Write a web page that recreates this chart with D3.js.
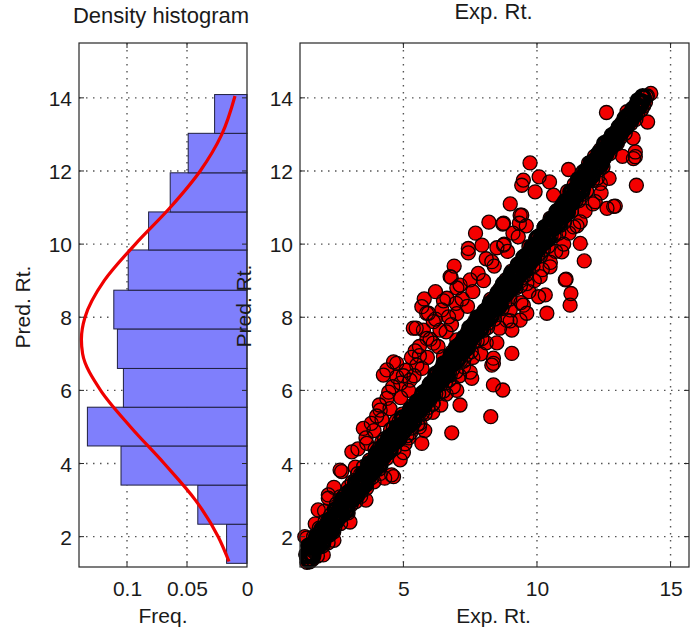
<!DOCTYPE html>
<html>
<head>
<meta charset="utf-8">
<script src="https://cdn.jsdelivr.net/npm/d3@7"></script>
<style>
  body { margin: 0; background: #fff; }
  text { font-family: "Liberation Sans", Arial, sans-serif; fill: #1a1a1a; }
</style>
</head>
<body>
<script>
// histogram of predicted values: bin edges and relative frequency (bottom to top)
var binEdges = [1.27, 2.34, 3.41, 4.48, 5.54, 6.60, 7.68, 8.74, 9.84, 10.88, 11.95, 13.03, 14.09];
var binFreq = [0.017, 0.041, 0.105, 0.133, 0.103, 0.108, 0.111, 0.099, 0.082, 0.064, 0.049, 0.027];

// fitted density curve: [pred, freq]
var densityCurve = [[1.32, 0.015], [2, 0.024], [3, 0.043], [4, 0.069], [5, 0.097], [6, 0.122],
  [7, 0.137], [7.4, 0.138], [8, 0.135], [9, 0.119], [10, 0.093], [11, 0.064], [12, 0.039],
  [13, 0.021], [14.05, 0.010]];

var freqTicks = [0.1, 0.05, 0];
var predTicks = [2, 4, 6, 8, 10, 12, 14];
var expTicks = [5, 10, 15];

// scatter, [exp, pred]: the band along the diagonal
var bandPoints = [
  [1.35,1.52],[1.39,1.30],[1.42,1.75],[1.46,1.46],[1.49,1.31],[1.53,1.77],[1.57,1.64],[1.60,1.38],[1.64,2.00],[1.67,1.58],
  [1.71,1.68],[1.75,2.05],[1.78,1.47],[1.82,1.97],[1.85,2.23],[1.89,1.76],[1.93,1.96],[1.96,2.22],[2.00,1.76],[2.03,2.13],
  [2.07,2.42],[2.11,2.04],[2.14,2.23],[2.18,1.83],[2.21,2.43],[2.25,2.05],[2.29,2.60],[2.32,2.30],[2.36,2.52],[2.39,2.13],
  [2.43,2.26],[2.47,2.60],[2.50,2.90],[2.54,2.44],[2.57,2.59],[2.61,2.89],[2.65,2.36],[2.68,2.87],[2.72,2.67],[2.75,3.09],
  [2.79,2.96],[2.83,2.67],[2.86,3.19],[2.90,2.90],[2.93,2.65],[2.97,3.21],[3.01,3.13],[3.04,2.87],[3.08,3.49],[3.11,3.07],
  [3.15,3.17],[3.19,3.54],[3.22,2.96],[3.26,3.46],[3.29,3.72],[3.33,3.25],[3.37,3.45],[3.40,3.71],[3.44,3.25],[3.47,3.62],
  [3.51,3.91],[3.55,3.53],[3.58,3.72],[3.62,3.32],[3.65,3.92],[3.69,3.54],[3.73,4.09],[3.76,3.79],[3.80,4.01],[3.83,3.62],
  [3.87,3.75],[3.91,4.09],[3.94,4.39],[3.98,3.93],[4.01,4.08],[4.05,4.38],[4.09,3.85],[4.12,4.36],[4.16,4.16],[4.19,4.58],
  [4.23,4.45],[4.27,4.16],[4.30,4.68],[4.34,4.39],[4.37,4.14],[4.41,4.70],[4.45,4.57],[4.48,4.31],[4.52,4.93],[4.55,4.51],
  [4.59,4.61],[4.63,4.98],[4.66,4.40],[4.70,4.90],[4.73,5.16],[4.77,4.69],[4.81,4.89],[4.84,5.15],[4.88,4.69],[4.91,5.06],
  [4.95,5.35],[4.99,4.97],[5.02,4.94],[5.06,4.54],[5.09,5.14],[5.13,4.76],[5.17,5.31],[5.20,5.01],[5.24,5.23],[5.27,4.84],
  [5.31,4.97],[5.35,5.31],[5.38,5.61],[5.42,5.15],[5.45,5.30],[5.49,5.60],[5.53,5.07],[5.56,5.58],[5.60,5.38],[5.63,5.80],
  [5.67,5.67],[5.71,5.38],[5.74,5.90],[5.78,5.61],[5.81,5.36],[5.85,5.92],[5.89,5.79],[5.92,5.53],[5.96,6.15],[5.99,5.73],
  [6.03,5.83],[6.07,6.20],[6.10,5.62],[6.14,6.12],[6.17,6.38],[6.21,5.91],[6.25,6.11],[6.28,6.37],[6.32,5.91],[6.35,6.28],
  [6.39,6.57],[6.43,6.19],[6.46,6.38],[6.50,5.98],[6.53,6.58],[6.57,6.20],[6.61,6.75],[6.64,6.45],[6.68,6.67],[6.71,6.28],
  [6.75,6.41],[6.79,6.75],[6.82,7.05],[6.86,6.59],[6.89,6.74],[6.93,7.04],[6.97,6.51],[7.00,7.02],[7.04,6.82],[7.07,7.24],
  [7.11,7.11],[7.15,6.82],[7.18,7.34],[7.22,7.05],[7.25,6.80],[7.29,7.36],[7.33,7.23],[7.36,6.97],[7.40,7.59],[7.43,7.17],
  [7.47,7.27],[7.51,7.64],[7.54,7.06],[7.58,7.56],[7.61,7.82],[7.65,7.35],[7.69,7.55],[7.72,7.81],[7.76,7.35],[7.79,7.72],
  [7.83,8.01],[7.87,7.63],[7.90,7.82],[7.94,7.42],[7.97,8.02],[8.01,7.64],[8.05,8.19],[8.08,7.89],[8.12,8.11],[8.15,7.72],
  [8.19,7.85],[8.23,8.19],[8.26,8.49],[8.30,8.03],[8.33,8.18],[8.37,8.48],[8.41,7.95],[8.44,8.46],[8.48,8.26],[8.51,8.68],
  [8.55,8.55],[8.59,8.26],[8.62,8.78],[8.66,8.49],[8.69,8.24],[8.73,8.80],[8.77,8.67],[8.80,8.41],[8.84,9.03],[8.87,8.61],
  [8.91,8.71],[8.95,9.08],[8.98,8.50],[9.02,9.00],[9.05,9.26],[9.09,8.79],[9.13,8.99],[9.16,9.25],[9.20,8.79],[9.23,9.16],
  [9.27,9.45],[9.31,9.07],[9.34,9.26],[9.38,8.86],[9.41,9.46],[9.45,9.08],[9.49,9.63],[9.52,9.33],[9.56,9.55],[9.59,9.16],
  [9.63,9.29],[9.67,9.63],[9.70,9.93],[9.74,9.47],[9.77,9.62],[9.81,9.92],[9.85,9.39],[9.88,9.90],[9.92,9.70],[9.95,10.12],
  [9.99,9.99],[10.03,9.70],[10.06,10.22],[10.10,9.93],[10.13,9.68],[10.17,10.24],[10.21,10.11],[10.24,9.85],[10.28,10.47],[10.31,10.05],
  [10.35,10.15],[10.39,10.52],[10.42,9.94],[10.46,10.44],[10.49,10.70],[10.53,10.23],[10.57,10.43],[10.60,10.69],[10.64,10.23],[10.67,10.60],
  [10.71,10.89],[10.75,10.51],[10.78,10.70],[10.82,10.30],[10.85,10.90],[10.89,10.52],[10.93,11.07],[10.96,10.77],[11.00,10.99],[11.03,10.60],
  [11.07,10.80],[11.11,11.14],[11.14,11.44],[11.18,10.98],[11.21,11.13],[11.25,11.43],[11.29,10.90],[11.32,11.41],[11.36,11.21],[11.39,11.63],
  [11.43,11.50],[11.47,11.21],[11.50,11.73],[11.54,11.44],[11.57,11.19],[11.61,11.75],[11.65,11.62],[11.68,11.36],[11.72,11.98],[11.75,11.56],
  [11.79,11.66],[11.83,12.03],[11.86,11.45],[11.90,11.95],[11.93,12.21],[11.97,11.74],[12.01,11.94],[12.04,12.20],[12.08,11.74],[12.11,12.11],
  [12.15,12.40],[12.19,12.02],[12.22,12.21],[12.26,11.81],[12.29,12.41],[12.33,12.03],[12.37,12.58],[12.40,12.28],[12.44,12.50],[12.47,12.11],
  [12.51,12.33],[12.55,12.55],[12.58,12.74],[12.62,12.48],[12.65,12.58],[12.69,12.78],[12.73,12.48],[12.76,12.79],[12.80,12.69],[12.83,12.95],
  [12.87,12.89],[12.91,12.73],[12.94,13.06],[12.98,12.90],[13.01,12.76],[13.05,13.11],[13.09,13.05],[13.12,12.91],[13.16,13.30],[13.19,13.06],
  [13.23,13.13],[13.27,13.37],[13.30,13.03],[13.34,13.35],[13.37,13.52],[13.41,13.25],[13.45,13.39],[13.48,13.56],[13.52,13.30],[13.55,13.53],
  [13.59,13.72],[13.63,13.51],[13.66,13.63],[13.70,13.41],[13.73,13.78],[13.77,13.57],[13.81,13.92],[13.84,13.75],[13.88,13.90],[13.91,13.67],
  [13.95,13.90],[13.99,13.78],[14.02,14.00],[14.06,13.88],[14.09,14.03],[14.13,14.05]
];

// the tight core of the band, where markers pile up into a solid black strip
var bandCore = [
  [1.40,1.49],[1.44,1.37],[1.48,1.75],[1.53,1.53],[1.57,1.74],[1.61,1.47],[1.65,1.79],[1.69,1.74],[1.74,1.97],[1.78,1.74],
  [1.82,1.75],[1.86,1.98],[1.90,1.93],[1.95,2.20],[1.99,1.86],[2.03,2.10],[2.07,2.26],[2.11,2.09],[2.16,2.27],[2.20,2.09],
  [2.24,2.46],[2.28,2.30],[2.32,2.17],[2.37,2.52],[2.41,2.47],[2.45,2.73],[2.49,2.43],[2.53,2.63],[2.58,2.57],[2.62,2.80],
  [2.66,2.75],[2.70,2.60],[2.74,3.01],[2.79,2.79],[2.83,3.00],[2.87,2.71],[2.91,3.05],[2.95,3.00],[3.00,3.23],[3.04,3.00],
  [3.08,3.01],[3.12,3.24],[3.16,3.19],[3.21,3.46],[3.25,3.12],[3.29,3.36],[3.33,3.52],[3.37,3.35],[3.42,3.53],[3.46,3.35],
  [3.50,3.72],[3.54,3.56],[3.58,3.43],[3.63,3.78],[3.67,3.73],[3.71,3.99],[3.75,3.69],[3.79,3.89],[3.84,3.83],[3.88,4.06],
  [3.92,4.01],[3.96,3.86],[4.00,4.27],[4.05,4.05],[4.09,4.26],[4.13,3.97],[4.17,4.31],[4.21,4.26],[4.26,4.49],[4.30,4.26],
  [4.34,4.27],[4.38,4.50],[4.42,4.45],[4.47,4.72],[4.51,4.38],[4.55,4.62],[4.59,4.78],[4.63,4.61],[4.68,4.79],[4.72,4.61],
  [4.76,4.98],[4.80,4.82],[4.84,4.69],[4.89,5.04],[4.93,4.99],[4.97,5.25],[5.01,4.89],[5.05,5.09],[5.10,5.03],[5.14,5.26],
  [5.18,5.21],[5.22,5.06],[5.26,5.47],[5.31,5.25],[5.35,5.46],[5.39,5.17],[5.43,5.51],[5.47,5.46],[5.52,5.69],[5.56,5.46],
  [5.60,5.47],[5.64,5.70],[5.68,5.65],[5.73,5.92],[5.77,5.58],[5.81,5.82],[5.85,5.98],[5.89,5.81],[5.94,5.99],[5.98,5.81],
  [6.02,6.18],[6.06,6.02],[6.10,5.89],[6.15,6.24],[6.19,6.19],[6.23,6.45],[6.27,6.15],[6.31,6.35],[6.36,6.29],[6.40,6.52],
  [6.44,6.47],[6.48,6.32],[6.52,6.73],[6.57,6.51],[6.61,6.72],[6.65,6.43],[6.69,6.77],[6.73,6.72],[6.78,6.95],[6.82,6.72],
  [6.86,6.73],[6.90,6.96],[6.94,6.91],[6.99,7.18],[7.03,6.84],[7.07,7.08],[7.11,7.24],[7.15,7.07],[7.20,7.25],[7.24,7.07],
  [7.28,7.44],[7.32,7.28],[7.36,7.15],[7.41,7.50],[7.45,7.45],[7.49,7.71],[7.53,7.41],[7.57,7.61],[7.62,7.55],[7.66,7.78],
  [7.70,7.73],[7.74,7.58],[7.78,7.99],[7.83,7.77],[7.87,7.98],[7.91,7.69],[7.95,8.03],[7.99,7.98],[8.04,8.15],[8.08,7.92],
  [8.12,7.93],[8.16,8.16],[8.20,8.11],[8.25,8.38],[8.29,8.04],[8.33,8.28],[8.37,8.44],[8.41,8.27],[8.46,8.45],[8.50,8.27],
  [8.54,8.64],[8.58,8.48],[8.62,8.35],[8.67,8.70],[8.71,8.65],[8.75,8.91],[8.79,8.61],[8.83,8.81],[8.88,8.75],[8.92,8.98],
  [8.96,8.93],[9.00,8.78],[9.04,9.19],[9.09,8.97],[9.13,9.18],[9.17,8.89],[9.21,9.23],[9.25,9.18],[9.30,9.41],[9.34,9.18],
  [9.38,9.19],[9.42,9.42],[9.46,9.37],[9.51,9.64],[9.55,9.30],[9.59,9.54],[9.63,9.70],[9.67,9.53],[9.72,9.71],[9.76,9.53],
  [9.80,9.90],[9.84,9.74],[9.88,9.61],[9.93,9.96],[9.97,9.91],[10.01,10.17],[10.05,9.87],[10.09,10.07],[10.14,10.01],[10.18,10.24],
  [10.22,10.19],[10.26,10.04],[10.30,10.45],[10.35,10.23],[10.39,10.44],[10.43,10.15],[10.47,10.49],[10.51,10.44],[10.56,10.67],[10.60,10.44],
  [10.64,10.45],[10.68,10.68],[10.72,10.63],[10.77,10.90],[10.81,10.56],[10.85,10.80],[10.89,10.96],[10.93,10.79],[10.98,10.97],[11.02,10.79],
  [11.06,11.16],[11.10,11.00],[11.14,10.87],[11.19,11.22],[11.23,11.17],[11.27,11.43],[11.31,11.13],[11.35,11.33],[11.40,11.27],[11.44,11.50],
  [11.48,11.45],[11.52,11.36],[11.56,11.77],[11.61,11.55],[11.65,11.76],[11.69,11.47],[11.73,11.81],[11.77,11.76],[11.82,11.99],[11.86,11.76],
  [11.90,11.77],[11.94,12.00],[11.98,11.95],[12.03,12.22],[12.07,11.88],[12.11,12.12],[12.15,12.28],[12.19,12.11],[12.24,12.29],[12.28,12.11],
  [12.32,12.48],[12.36,12.32],[12.40,12.19],[12.45,12.54],[12.49,12.49],[12.53,12.75],[12.57,12.45],[12.61,12.65],[12.66,12.59],[12.70,12.82],
  [12.74,12.76],[12.78,12.67],[12.82,12.97],[12.87,12.83],[12.91,12.99],[12.95,12.80],[12.99,13.05],[13.03,13.02],[13.08,13.20],[13.12,13.05],
  [13.16,13.07],[13.20,13.24],[13.24,13.22],[13.29,13.43],[13.33,13.20],[13.37,13.38],[13.41,13.50],[13.45,13.40],[13.50,13.53],[13.54,13.42],
  [13.58,13.68],[13.62,13.60],[13.66,13.54],[13.71,13.77],[13.75,13.75],[13.79,13.92],[13.83,13.76],[13.87,13.89],[13.92,13.88],[13.96,14.03]
];

// scatter, [exp, pred]: points off the band
var outlierPoints = [
  [14.26,14.12],[13.37,13.62],[14.14,13.34],[13.68,12.52],[13.61,12.34],[13.72,11.61],[13.68,12.39],
  [9.74,12.22],[9.49,11.75],[9.43,11.61],[10.08,11.84],[10.47,11.70],[9.93,11.43],[10.62,11.34],
  [11.18,12.04],[12.18,11.16],[12.62,10.98],[12.93,11.04],[12.37,11.66],[12.87,11.03],[11.62,10.61],
  [11.37,10.47],[9.43,10.79],[9.34,10.57],[8.72,10.55],[8.75,10.57],[9.37,10.79],[7.94,9.97],
  [7.43,9.88],[8.75,9.97],[11.62,10.02],[7.43,9.76],[8.77,10.00],[8.31,9.52],[6.79,9.09],[6.75,9.11],
  [7.12,8.88],[7.50,9.02],[5.78,8.50],[6.63,8.52],[6.97,8.38],[5.94,8.11],[5.87,8.11],[5.69,8.29],
  [5.48,7.70],[5.37,7.70],[6.12,7.88],[5.88,7.42],[5.44,7.08],[5.50,6.69],[6.12,7.29],[6.50,6.92],
  [7.00,7.38],[7.25,6.65],[7.56,6.33],[8.37,6.15],[8.72,6.01],[8.31,6.69],[8.37,6.88],[8.37,6.74],
  [9.06,7.01],[9.06,7.65],[8.87,7.92],[9.62,8.11],[10.37,8.11],[10.06,8.56],[10.31,8.61],[11.09,9.04],
  [11.06,9.02],[11.27,8.65],[11.24,8.33],[10.49,9.38],[11.77,9.54],[10.93,9.79],[9.62,8.92],[10.12,9.11],
  [9.06,8.74],[9.49,8.33],[9.37,7.92],[6.44,8.20],[6.69,8.01],[5.75,7.65],[6.37,7.65],[4.63,6.78],
  [4.75,6.74],[4.38,6.56],[4.25,6.42],[4.75,6.37],[5.25,6.28],[6.87,6.10],[4.38,5.78],[6.81,4.84],
  [8.27,5.28],[5.69,4.55],[7.12,5.60],[4.63,3.64],[4.56,3.69],[4.88,4.10],[4.13,3.73],[3.50,4.96],
  [3.07,4.32],[2.69,3.78],[2.63,3.82],[2.19,3.05],[2.19,3.14],[1.81,2.73],[1.31,2.00],[1.38,1.96],
  [1.63,1.73],[1.94,1.73],[1.38,1.45],[4.13,5.46],[5.62,5.10],[6.12,5.65],[2.63,3.09],[2.94,3.36],
  [3.63,4.55],[3.30,4.40],[3.80,5.10],[4.00,5.30],[4.45,5.95],[4.90,6.20],[5.10,6.55],[5.30,6.90],
  [5.60,7.20],[3.20,3.90],[2.40,3.35],[2.05,2.70],[1.70,2.35],[2.90,2.70],[3.40,3.10],[3.90,3.50],
  [5.20,4.70],[5.60,5.00],[6.10,5.40],[6.60,5.90],[7.10,6.40],[7.60,6.90],[8.10,7.30],[8.60,7.70],
  [9.00,8.20],[9.70,8.70],[10.20,9.30],[10.70,9.80],[11.20,10.30],[11.80,10.90],[12.40,11.40],
  [6.20,8.70],[6.90,9.40],[7.70,10.30],[8.20,10.60],[9.00,11.10],[12.60,13.60],
  // left fringe
  [3.60,4.70],[3.90,4.90],[4.20,5.20],[4.10,5.60],[4.50,5.50],[4.60,6.10],[4.90,5.80],[5.00,6.40],
  [5.20,6.00],[5.40,6.40],[5.70,6.60],[5.60,6.95],[5.90,6.90],[6.00,7.40],[6.30,7.20],[6.20,7.95],
  [6.60,7.60],[6.80,7.80],[6.50,8.45],[7.00,8.10],[7.20,8.50],[7.40,8.30],[7.00,8.80],[7.60,8.70],
  [7.80,9.20],[8.00,9.00],[8.10,9.60],[8.40,9.40],[8.50,9.90],[8.90,9.80],[9.10,10.30],[9.30,10.20],
  [9.60,10.50],
  // right fringe
  [3.00,2.40],[3.60,3.00],[4.30,3.60],[5.00,4.30],[5.80,4.90],[6.40,5.60],[7.00,6.00],[7.50,6.50],
  [7.90,7.00],[8.50,7.30],[9.00,7.90],[9.40,8.40],[9.90,9.00],[10.50,9.50],[11.00,10.00],[11.50,10.50],
  [12.10,11.10],[12.70,11.80],[13.20,12.40],[13.60,12.90],[2.40,1.90],[2.00,1.50]
];

var width = 690, height = 633;
var fontSize = 21;

var svg = d3.select("body").append("svg")
    .attr("width", width)
    .attr("height", height);

// shared vertical scale
var yScale = d3.scaleLinear().domain([1.17, 15.5]).range([567, 43]);

// panels
var left = {x0: 79, x1: 247, y0: 43, y1: 567};
var right = {x0: 300, x1: 689, y0: 43, y1: 567};

var freqScale = d3.scaleLinear().domain([0, 0.14]).range([left.x1, left.x0]);
var expScale = d3.scaleLinear().domain([1.13, 15.69]).range([right.x0, right.x1]);

function grid(g, p, xs, xvals) {
  g.selectAll(".hg").data(predTicks).enter().append("line")
      .attr("x1", p.x0).attr("x2", p.x1)
      .attr("y1", function(d) { return yScale(d); })
      .attr("y2", function(d) { return yScale(d); });
  g.selectAll(".vg").data(xvals).enter().append("line")
      .attr("x1", function(d) { return xs(d); })
      .attr("x2", function(d) { return xs(d); })
      .attr("y1", p.y0).attr("y2", p.y1);
  g.selectAll("line")
      .attr("stroke", "#555")
      .attr("stroke-width", 1.4)
      .attr("stroke-dasharray", "1.5,5.5");
}

function frame(g, p, xs, xvals) {
  var t = 5;
  g.append("rect")
      .attr("x", p.x0).attr("y", p.y0)
      .attr("width", p.x1 - p.x0).attr("height", p.y1 - p.y0)
      .attr("fill", "none").attr("stroke", "#262626").attr("stroke-width", 1.2);
  predTicks.forEach(function(d) {
    g.append("line").attr("x1", p.x0).attr("x2", p.x0 + t)
        .attr("y1", yScale(d)).attr("y2", yScale(d));
    g.append("line").attr("x1", p.x1).attr("x2", p.x1 - t)
        .attr("y1", yScale(d)).attr("y2", yScale(d));
  });
  xvals.forEach(function(d) {
    g.append("line").attr("x1", xs(d)).attr("x2", xs(d))
        .attr("y1", p.y1).attr("y2", p.y1 - t);
    g.append("line").attr("x1", xs(d)).attr("x2", xs(d))
        .attr("y1", p.y0).attr("y2", p.y0 + t);
  });
  g.selectAll("line").attr("stroke", "#262626").attr("stroke-width", 1);
}

function styleAxis(a) {
  a.select(".domain").remove();
  a.selectAll(".tick line").remove();
  a.attr("font-size", fontSize).attr("font-family", null);
  a.selectAll("text").attr("fill", "#1a1a1a");
}

// ---------- left panel: density histogram ----------
var gl = svg.append("g");
grid(gl.append("g"), left, freqScale, [0.1, 0.05]);

gl.append("g").selectAll("rect")
    .data(binFreq)
    .enter()
    .append("rect")
    .attr("x", function(d) { return freqScale(d); })
    .attr("y", function(d, i) { return yScale(binEdges[i + 1]); })
    .attr("width", function(d) { return freqScale(0) - freqScale(d); })
    .attr("height", function(d, i) { return yScale(binEdges[i]) - yScale(binEdges[i + 1]); })
    .attr("fill", "#7f7ffc")
    .attr("stroke", "#1f1f3f")
    .attr("stroke-width", 1);

var curveLine = d3.line()
    .x(function(d) { return freqScale(d[1]); })
    .y(function(d) { return yScale(d[0]); })
    .curve(d3.curveMonotoneY);

gl.append("path")
    .datum(densityCurve)
    .attr("d", curveLine)
    .attr("fill", "none")
    .attr("stroke", "#f00000")
    .attr("stroke-width", 3.2);

frame(gl.append("g"), left, freqScale, [0.1, 0.05]);

var axLY = gl.append("g")
    .attr("transform", "translate(" + left.x0 + ",0)")
    .call(d3.axisLeft(yScale).tickValues(predTicks).tickSize(0).tickPadding(7));
styleAxis(axLY);
axLY.selectAll("text").attr("dy", "0.36em");

var axLX = gl.append("g")
    .attr("transform", "translate(0," + left.y1 + ")")
    .call(d3.axisBottom(freqScale).tickValues(freqTicks)
        .tickFormat(function(d) { return d === 0 ? "0" : String(d); })
        .tickSize(0).tickPadding(14));
styleAxis(axLX);

gl.append("text")
    .attr("x", (left.x0 + left.x1) / 2 - 2).attr("y", 23)
    .attr("text-anchor", "middle").attr("font-size", 22)
    .text("Density histogram");
gl.append("text")
    .attr("x", (left.x0 + left.x1) / 2).attr("y", 623)
    .attr("text-anchor", "middle").attr("font-size", fontSize)
    .text("Freq.");
gl.append("text")
    .attr("transform", "translate(30,307) rotate(-90)")
    .attr("text-anchor", "middle").attr("font-size", fontSize)
    .text("Pred. Rt.");

// ---------- right panel: scatter ----------
var gr = svg.append("g");
grid(gr.append("g"), right, expScale, expTicks);

// marker groups; the core edge is heavier because many markers sit on top of each other there
var groups = [
  {points: outlierPoints, edge: 1.3, color: "#120000"},
  {points: bandPoints, edge: 1.4, color: "#0a0000"},
  {points: bandCore, edge: 3.4, color: "#000"}
];

// faces first, then all edges on top (as the original renderer does)
var faces = gr.append("g");
groups.forEach(function(grp) {
  faces.append("g").selectAll("circle")
      .data(grp.points)
      .enter()
      .append("circle")
      .attr("cx", function(d) { return expScale(d[0]); })
      .attr("cy", function(d) { return yScale(d[1]); })
      .attr("r", 7)
      .attr("fill", "#f40000");
});

var edges = gr.append("g");
groups.forEach(function(grp) {
  edges.append("g").selectAll("circle")
      .data(grp.points)
      .enter()
      .append("circle")
      .attr("cx", function(d) { return expScale(d[0]); })
      .attr("cy", function(d) { return yScale(d[1]); })
      .attr("r", 7)
      .attr("fill", "none")
      .attr("stroke", grp.color)
      .attr("stroke-width", grp.edge);
});

frame(gr.append("g"), right, expScale, expTicks);

var axRY = gr.append("g")
    .attr("transform", "translate(" + right.x0 + ",0)")
    .call(d3.axisLeft(yScale).tickValues(predTicks).tickSize(0).tickPadding(7));
styleAxis(axRY);
axRY.selectAll("text").attr("dy", "0.36em");

var axRX = gr.append("g")
    .attr("transform", "translate(0," + right.y1 + ")")
    .call(d3.axisBottom(expScale).tickValues(expTicks).tickSize(0).tickPadding(14));
styleAxis(axRX);

gr.append("text")
    .attr("x", (right.x0 + right.x1) / 2 - 1).attr("y", 19)
    .attr("text-anchor", "middle").attr("font-size", 22)
    .text("Exp. Rt.");
gr.append("text")
    .attr("x", (right.x0 + right.x1) / 2 - 1).attr("y", 623)
    .attr("text-anchor", "middle").attr("font-size", fontSize)
    .text("Exp. Rt.");
gr.append("text")
    .attr("transform", "translate(251,306) rotate(-90)")
    .attr("text-anchor", "middle").attr("font-size", fontSize)
    .text("Pred. Rt.");
</script>
</body>
</html>
